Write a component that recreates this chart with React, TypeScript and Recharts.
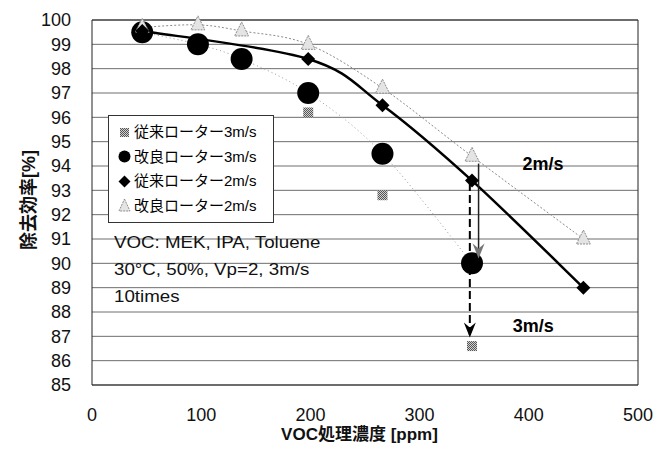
import React from "react";
import {
  CartesianGrid,
  ComposedChart,
  Legend,
  Line,
  ReferenceDot,
  ReferenceLine,
  XAxis,
  YAxis,
} from "recharts";

// 従来ローター 3m/s (gray squares)
const old3X = [46, 97, 137, 198, 266, 348];
const old3Y = [99.3, 98.9, 98.2, 96.2, 92.8, 86.6];
// 改良ローター 3m/s (black circles)
const new3X = [46, 97, 137, 198, 266, 348];
const new3Y = [99.5, 99.0, 98.4, 97.0, 94.5, 90.0];
// 従来ローター 2m/s (black diamonds)
const old2X = [46, 198, 266, 348, 450];
const old2Y = [99.55, 98.4, 96.5, 93.4, 89.0];
// 改良ローター 2m/s (light triangles)
const new2X = [46, 97, 137, 198, 266, 348, 450];
const new2Y = [99.7, 99.8, 99.55, 99.0, 97.2, 94.4, 91.0];

// 2m/s -> 3m/s arrows
const arrowOldX = [346, 346];
const arrowOldY = [93.3, 86.95];
const arrowNewX = [354, 354];
const arrowNewY = [94.1, 90.2];

const xTicks = [0, 100, 200, 300, 400, 500];
const yTicks = [85, 86, 87, 88, 89, 90, 91, 92, 93, 94, 95, 96, 97, 98, 99, 100];

const seriesNames = ["従来ローター3m/s", "改良ローター3m/s", "従来ローター2m/s", "改良ローター2m/s"];
const noteLines = ["VOC: MEK, IPA, Toluene", "30°C, 50%, Vp=2, 3m/s", "10times"];

const FONT = "'Liberation Sans', Arial, 'Noto Sans CJK JP', sans-serif";

const pts = (xs: number[], ys: number[]) => xs.map((x, i) => ({ x, y: ys[i] }));

// spreadsheet-style smoothed line (Catmull-Rom through the points)
function smoothCurve(context: any) {
  let p: number[][] = [];
  return {
    areaStart() {},
    areaEnd() {},
    lineStart() {
      p = [];
    },
    point(x: number, y: number) {
      p.push([+x, +y]);
    },
    lineEnd() {
      if (!p.length) return;
      context.moveTo(p[0][0], p[0][1]);
      for (let i = 0; i < p.length - 1; i++) {
        const p0 = p[Math.max(i - 1, 0)];
        const p1 = p[i];
        const p2 = p[i + 1];
        const p3 = p[Math.min(i + 2, p.length - 1)];
        context.bezierCurveTo(
          p1[0] + (p2[0] - p0[0]) / 6,
          p1[1] + (p2[1] - p0[1]) / 6,
          p2[0] - (p3[0] - p1[0]) / 6,
          p2[1] - (p3[1] - p1[1]) / 6,
          p2[0],
          p2[1]
        );
      }
    },
  };
}

const squareDot = (p: any) => (
  <rect key={`sq${p.index}`} x={p.cx - 5} y={p.cy - 5} width={10} height={10} fill="url(#chk)" />
);
const circleDot = (p: any) => <circle key={`ci${p.index}`} cx={p.cx} cy={p.cy} r={11} fill="#000" />;
const diamondDot = (p: any) => (
  <path
    key={`di${p.index}`}
    d={`M${p.cx},${p.cy - 7}L${p.cx + 7},${p.cy}L${p.cx},${p.cy + 7}L${p.cx - 7},${p.cy}Z`}
    fill="#000"
  />
);
const triDot = (p: any) => (
  <path
    key={`tr${p.index}`}
    d={`M${p.cx},${p.cy - 9}L${p.cx + 7},${p.cy + 5}L${p.cx - 7},${p.cy + 5}Z`}
    fill="#e4e4e4"
    stroke="#8c8c8c"
    strokeDasharray="2 1"
  />
);
const arrowHead = (color: string, last: number) => (p: any) =>
  p.index === last ? (
    <path
      key={`ah${p.index}`}
      d={`M${p.cx},${p.cy}L${p.cx - 6},${p.cy - 15}L${p.cx},${p.cy - 10}L${p.cx + 6},${p.cy - 15}Z`}
      fill={color}
    />
  ) : (
    <g key={`ah${p.index}`} />
  );

const legendMarks = [
  <rect x={3} y={3} width={9} height={9} fill="url(#lchk)" />,
  <circle cx={7.5} cy={7.5} r={6} fill="#000" />,
  <path d="M7.5,1.5L13.5,7.5L7.5,13.5L1.5,7.5Z" fill="#000" />,
  <path d="M7.5,1L13,13L2,13Z" fill="#e4e4e4" stroke="#8c8c8c" strokeDasharray="2 1" />,
];

const renderLegend = () => (
  <div
    style={{
      border: "1px solid #333",
      background: "#fff",
      padding: "4px 4px 4px 8px",
      fontFamily: FONT,
      fontSize: 15,
      lineHeight: "24.5px",
      width: 152,
    }}
  >
    <svg width={0} height={0} style={{ position: "absolute" }}>
      <defs>
        <pattern id="lchk" width="2" height="2" patternUnits="userSpaceOnUse">
          <rect width="2" height="2" fill="#d0d0d0" />
          <rect width="1" height="1" fill="#555" />
          <rect x="1" y="1" width="1" height="1" fill="#555" />
        </pattern>
      </defs>
    </svg>
    {seriesNames.map((n, i) => (
      <div key={n} style={{ display: "flex", alignItems: "center" }}>
        <svg width={15} height={15} style={{ marginRight: 2 }}>
          {legendMarks[i]}
        </svg>
        <span>{n}</span>
      </div>
    ))}
  </div>
);

export default function App() {
  return (
    <div style={{ position: "relative", width: 659, height: 461, background: "#fff", fontFamily: FONT }}>
      <style>{"body{margin:0}"}</style>
      <ComposedChart width={659} height={461} margin={{ top: 20, right: 21, bottom: 46, left: 0 }}>
        <defs>
          <pattern id="chk" width="2" height="2" patternUnits="userSpaceOnUse">
            <rect width="2" height="2" fill="#d0d0d0" />
            <rect width="1" height="1" fill="#555" />
            <rect x="1" y="1" width="1" height="1" fill="#555" />
          </pattern>
        </defs>
        <CartesianGrid vertical={false} stroke="#6e6e6e" />
        <XAxis
          type="number"
          dataKey="x"
          domain={[0, 500]}
          ticks={xTicks}
          interval={0}
          height={30}
          tickLine={false}
          tickMargin={17}
          axisLine={{ stroke: "#222" }}
          tick={{ fill: "#111", fontSize: 18, fontFamily: FONT }}
        />
        <YAxis
          type="number"
          domain={[85, 100]}
          ticks={yTicks}
          interval={0}
          width={92}
          tickLine={false}
          tickMargin={15}
          axisLine={{ stroke: "#222" }}
          tick={{ fill: "#111", fontSize: 18, fontFamily: FONT }}
        />
        <ReferenceLine x={500} stroke="#222" />
        <ReferenceLine y={100} stroke="#222" />
        <Legend
          layout="vertical"
          align="center"
          verticalAlign="middle"
          content={renderLegend}
          wrapperStyle={{ left: 108, top: 115, width: 166 }}
        />
        <Line
          name={seriesNames[0]}
          data={pts(old3X, old3Y)}
          dataKey="y"
          stroke="none"
          dot={squareDot}
          activeDot={false}
          legendType="none"
          isAnimationActive={false}
        />
        <Line
          name={seriesNames[1]}
          data={pts(new3X, new3Y)}
          dataKey="y"
          type={smoothCurve as any}
          stroke="#9a9a9a"
          strokeWidth={1}
          strokeDasharray="1 3"
          dot={circleDot}
          activeDot={false}
          isAnimationActive={false}
        />
        <Line
          name={seriesNames[3]}
          data={pts(new2X, new2Y)}
          dataKey="y"
          type={smoothCurve as any}
          stroke="#8a8a8a"
          strokeWidth={1}
          strokeDasharray="2 2"
          dot={triDot}
          activeDot={false}
          isAnimationActive={false}
        />
        <Line
          name={seriesNames[2]}
          data={pts(old2X, old2Y)}
          dataKey="y"
          type={smoothCurve as any}
          stroke="#000"
          strokeWidth={2.5}
          dot={diamondDot}
          activeDot={false}
          isAnimationActive={false}
        />
        <Line
          data={pts(arrowOldX, arrowOldY)}
          dataKey="y"
          stroke="#000"
          strokeWidth={2}
          strokeDasharray="8 4"
          dot={arrowHead("#000", arrowOldX.length - 1)}
          activeDot={false}
          legendType="none"
          isAnimationActive={false}
        />
        <Line
          data={pts(arrowNewX, arrowNewY)}
          dataKey="y"
          stroke="#222"
          strokeWidth={1.5}
          dot={arrowHead("#777", arrowNewX.length - 1)}
          activeDot={false}
          legendType="none"
          isAnimationActive={false}
        />
        <ReferenceDot
          x={413}
          y={94.08}
          r={0}
          label={{ value: "2m/s", position: "center", fontSize: 18, fontWeight: "bold", fill: "#000", fontFamily: FONT }}
        />
        <ReferenceDot
          x={404}
          y={87.46}
          r={0}
          label={{ value: "3m/s", position: "center", fontSize: 18, fontWeight: "bold", fill: "#000", fontFamily: FONT }}
        />
      </ComposedChart>

      {noteLines.map((t, i) => (
        <div
          key={t}
          style={{
            position: "absolute",
            left: 114,
            top: 233 + i * 27,
            fontSize: 16,
            lineHeight: "20px",
            color: "#111",
            whiteSpace: "nowrap",
            transform: "scaleX(1.17)",
            transformOrigin: "left center",
          }}
        >
          {t}
        </div>
      ))}

      <div
        style={{
          position: "absolute",
          left: 0,
          width: 659,
          top: 424,
          paddingLeft: 60,
          boxSizing: "border-box",
          textAlign: "center",
          fontSize: 17,
          fontWeight: "bold",
          color: "#111",
          lineHeight: "22px",
        }}
      >
        VOC処理濃度 [ppm]
      </div>
      <div
        style={{
          position: "absolute",
          left: 27,
          top: 200,
          transform: "translate(-50%, -50%) rotate(-90deg)",
          fontSize: 18,
          fontWeight: "bold",
          color: "#111",
          whiteSpace: "nowrap",
        }}
      >
        除去効率[%]
      </div>
    </div>
  );
}
